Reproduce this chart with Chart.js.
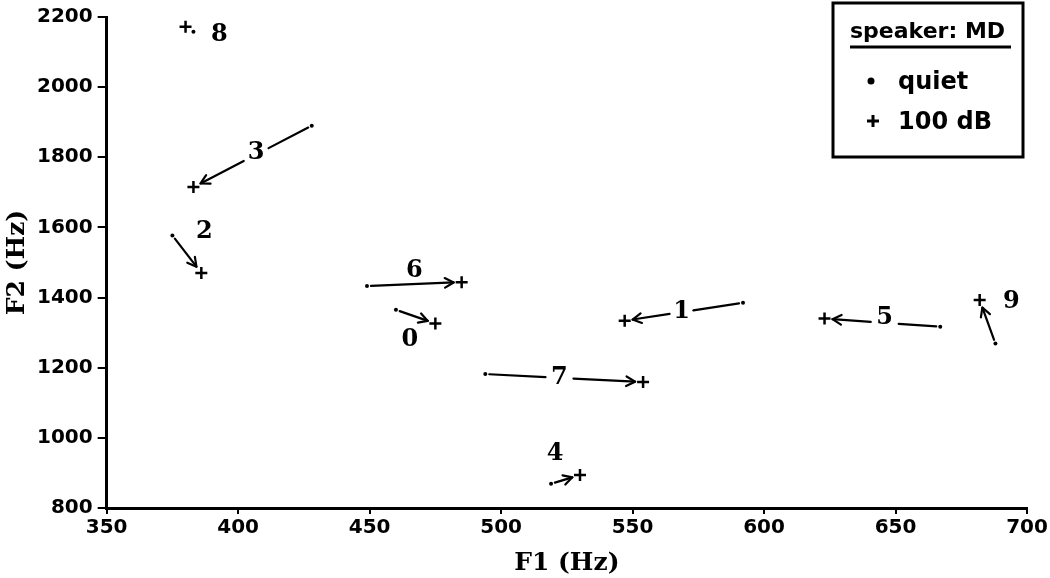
<!DOCTYPE html>
<html>
<head>
<meta charset="utf-8">
<script src="https://cdn.jsdelivr.net/npm/chart.js@4.4.1/dist/chart.umd.min.js"></script>
<style>
  html, body { margin: 0; padding: 0; background: #fff; }
  #wrap { width: 1050px; height: 578px; }
</style>
</head>
<body>
<div id="wrap"><canvas id="graphics"></canvas></div>
<script>
// vowel numbers and their F1/F2 in quiet and in 100 dB noise
const vowels = ['0', '1', '2', '3', '4', '5', '6', '7', '8', '9'];
const quietF1 = [460, 592, 375, 428, 519, 667, 449, 494, 383, 688];
const quietF2 = [1365, 1385, 1577, 1890, 869, 1317, 1433, 1182, 2158, 1269];
const loudF1 = [475, 547, 386, 383, 530, 623, 485, 554, 380, 682];
const loudF2 = [1326, 1334, 1470, 1715, 894, 1340, 1444, 1159, 2172, 1393];
const xTicks = [350, 400, 450, 500, 550, 600, 650, 700];
const yTicks = [800, 1000, 1200, 1400, 1600, 1800, 2000, 2200];

// where each number label goes: t along the arrow, pixel offset, gap cut in the line
const labelPlace = [
  { t: 0, dx: 14, dy: 30, gap: 0 },
  { t: 0.52, dx: 0, dy: 0, gap: 12 },
  { t: 0, dx: 32, dy: -4, gap: 0 },
  { t: 0.47, dx: 0, dy: -2, gap: 14 },
  { t: 0, dx: 4, dy: -30, gap: 0 },
  { t: 0.48, dx: 0, dy: -5, gap: 14 },
  { t: 0.5, dx: 0, dy: -13, gap: 0 },
  { t: 0.47, dx: 0, dy: 0, gap: 14 },
  { t: 0, dx: 26, dy: 3, gap: 0 },
  { t: 0, dx: 16, dy: -42, gap: 0 }
];

const tickFont = { family: 'DejaVu Sans', size: 20, weight: 'bold' };
const titleFont = { family: 'DejaVu Serif', size: 25, weight: 'bold' };

const arrowPlugin = {
  id: 'arrows',
  afterDatasetsDraw(chart) {
    const { ctx, scales: { x, y } } = chart;
    ctx.save();
    ctx.strokeStyle = '#000';
    ctx.fillStyle = '#000';
    ctx.lineWidth = 2.2;
    ctx.lineCap = 'round';
    vowels.forEach((v, i) => {
      const x0 = x.getPixelForValue(quietF1[i]);
      const y0 = y.getPixelForValue(quietF2[i]);
      const x1 = x.getPixelForValue(loudF1[i]);
      const y1 = y.getPixelForValue(loudF2[i]);
      const len = Math.hypot(x1 - x0, y1 - y0);
      const ux = (x1 - x0) / len;
      const uy = (y1 - y0) / len;
      const p = labelPlace[i];
      if (len > 14) {
        const s = 4, e = len - 8;
        const pieces = [];
        if (p.gap > 0) {
          const m = p.t * len;
          pieces.push([s, m - p.gap], [m + p.gap, e]);
        } else {
          pieces.push([s, e]);
        }
        ctx.beginPath();
        pieces.forEach(([a, b]) => {
          ctx.moveTo(x0 + ux * a, y0 + uy * a);
          ctx.lineTo(x0 + ux * b, y0 + uy * b);
        });
        ctx.stroke();
        // open arrow head
        const hx = x0 + ux * e, hy = y0 + uy * e;
        const ang = Math.atan2(uy, ux);
        ctx.beginPath();
        [0.5, -0.5].forEach(d => {
          ctx.moveTo(hx, hy);
          ctx.lineTo(hx - 10 * Math.cos(ang + d), hy - 10 * Math.sin(ang + d));
        });
        ctx.stroke();
      }
      const lx = x0 + (x1 - x0) * p.t + p.dx;
      const ly = y0 + (y1 - y0) * p.t + p.dy;
      ctx.font = 'bold 24px "DejaVu Serif"';
      ctx.textAlign = 'center';
      ctx.textBaseline = 'middle';
      ctx.fillText(v, lx, ly);
    });
    ctx.restore();
  }
};

const legendBoxPlugin = {
  id: 'legendBox',
  afterDraw(chart) {
    const { ctx, chartArea } = chart;
    const right = chartArea.right - 4;
    const left = right - 190;
    const top = 3;
    ctx.save();
    ctx.strokeStyle = '#000';
    ctx.fillStyle = '#000';
    ctx.lineWidth = 3;
    ctx.strokeRect(left, top, 190, 154);
    ctx.textBaseline = 'alphabetic';
    ctx.textAlign = 'left';
    ctx.font = 'bold 22px "DejaVu Sans"';
    ctx.fillText('speaker: MD', left + 17, top + 35);
    ctx.beginPath();
    ctx.moveTo(left + 17, top + 44);
    ctx.lineTo(left + 178, top + 44);
    ctx.stroke();
    ctx.beginPath();
    ctx.arc(left + 38, top + 78, 3.5, 0, Math.PI * 2);
    ctx.fill();
    ctx.beginPath();
    ctx.moveTo(left + 34, top + 118);
    ctx.lineTo(left + 46, top + 118);
    ctx.moveTo(left + 40, top + 112);
    ctx.lineTo(left + 40, top + 124);
    ctx.stroke();
    ctx.font = 'bold 24px "DejaVu Sans"';
    ctx.fillText('quiet', left + 65, top + 86);
    ctx.fillText('100 dB', left + 65, top + 126);
    ctx.restore();
  }
};

const ctx = document.getElementById('graphics').getContext('2d');
const chart = new Chart(ctx, {
  type: 'scatter',
  data: {
    datasets: [
      {
        label: 'quiet',
        data: quietF1.map((f1, i) => ({ x: f1, y: quietF2[i] })),
        pointStyle: 'circle',
        pointRadius: 2,
        backgroundColor: '#000',
        borderColor: '#000',
        borderWidth: 0
      },
      {
        label: '100 dB',
        data: loudF1.map((f1, i) => ({ x: f1, y: loudF2[i] })),
        pointStyle: 'cross',
        pointRadius: 6,
        borderColor: '#000',
        borderWidth: 2.5
      }
    ]
  },
  options: {
    responsive: true,
    maintainAspectRatio: false,
    animation: false,
    devicePixelRatio: 1,
    layout: { padding: { top: 12, right: 23, left: 0, bottom: 0 } },
    plugins: {
      legend: { display: false },
      tooltip: { enabled: false }
    },
    scales: {
      x: {
        type: 'linear',
        min: 350,
        max: 700,
        afterBuildTicks: axis => { axis.ticks = xTicks.map(v => ({ value: v })); },
        ticks: { color: '#000', font: tickFont, padding: 2, callback: v => String(v) },
        grid: { display: true, drawOnChartArea: false, drawTicks: true, tickLength: 6, color: '#000', lineWidth: 2 },
        border: { display: true, width: 3, color: '#000' },
        title: { display: true, text: 'F1 (Hz)', color: '#000', font: titleFont, padding: { top: 6, bottom: 0 } }
      },
      y: {
        type: 'linear',
        min: 800,
        max: 2200,
        afterBuildTicks: axis => { axis.ticks = yTicks.map(v => ({ value: v })); },
        ticks: { color: '#000', font: tickFont, padding: 5, callback: v => String(v) },
        grid: { display: true, drawOnChartArea: false, drawTicks: true, tickLength: 9, color: '#000', lineWidth: 2 },
        border: { display: true, width: 3, color: '#000' },
        title: { display: true, text: 'F2 (Hz)', color: '#000', font: titleFont, padding: { top: 2, bottom: 0 } }
      }
    }
  },
  plugins: [arrowPlugin, legendBoxPlugin]
});
</script>
</body>
</html>
